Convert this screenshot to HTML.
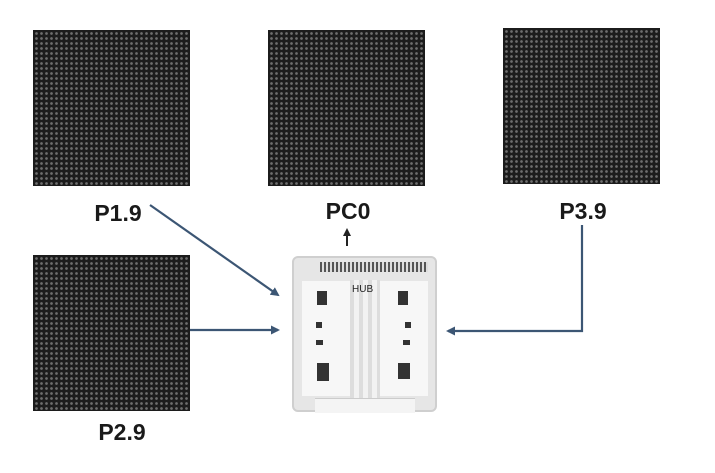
<!DOCTYPE html>
<html><head><style>
body{margin:0;width:715px;height:473px;background:#fff;position:relative;overflow:hidden;font-family:"Liberation Sans",sans-serif}
.p{position:absolute;width:157px;height:156px;background-color:#1c1c1c;background-image:radial-gradient(circle,#6e6e6e 1.1px,transparent 1.6px);background-size:5px 5px;background-position:1px 1px}
.l{position:absolute;font-weight:bold;font-size:23px;color:#1a1a1a;transform:translateX(-50%)}
.c{position:absolute;background:#333}
</style></head><body>
<div class="p" style="left:33px;top:30px"></div>
<div class="p" style="left:268px;top:30px"></div>
<div class="p" style="left:503px;top:28px"></div>
<div class="p" style="left:33px;top:255px"></div>
<div class="l" style="left:118px;top:200px">P1.9</div>
<div class="l" style="left:348px;top:198px">PC0</div>
<div class="l" style="left:583px;top:198px">P3.9</div>
<div class="l" style="left:122px;top:419px">P2.9</div>
<div style="position:absolute;left:292px;top:256px;width:145px;height:156px;background:#e6e6e6;border:2px solid #cfcfcf;border-radius:6px;box-sizing:border-box"></div>
<div style="position:absolute;left:302px;top:281px;width:48px;height:115px;background:#f7f7f7"></div>
<div style="position:absolute;left:380px;top:281px;width:48px;height:115px;background:#f7f7f7"></div>
<div style="position:absolute;left:350px;top:280px;width:30px;height:118px;background:repeating-linear-gradient(90deg,#ddd 0 4px,#f2f2f2 4px 9px)"></div>
<div style="position:absolute;left:352px;top:284px;font-size:10px;color:#222">HUB</div>
<div style="position:absolute;left:320px;top:262px;width:108px;height:10px;background:repeating-linear-gradient(90deg,#555 0 2px,#ddd 2px 4px)"></div>
<div class="c" style="left:317px;top:291px;width:10px;height:14px"></div>
<div class="c" style="left:398px;top:291px;width:10px;height:14px"></div>
<div class="c" style="left:316px;top:322px;width:6px;height:6px"></div>
<div class="c" style="left:405px;top:322px;width:6px;height:6px"></div>
<div class="c" style="left:316px;top:340px;width:7px;height:5px"></div>
<div class="c" style="left:403px;top:340px;width:7px;height:5px"></div>
<div class="c" style="left:317px;top:363px;width:12px;height:18px"></div>
<div class="c" style="left:398px;top:363px;width:12px;height:16px"></div>
<div style="position:absolute;left:315px;top:398px;width:100px;height:14px;background:#f4f4f4;border-top:1px solid #ccc"></div>
<svg width="715" height="473" style="position:absolute;left:0;top:0">
<defs><marker id="a" markerWidth="9" markerHeight="9" refX="7" refY="4.5" orient="auto" markerUnits="userSpaceOnUse"><path d="M0,0L9,4.5L0,9z" fill="#3c5674"/></marker>
<marker id="b" markerWidth="8" markerHeight="8" refX="6" refY="4" orient="auto" markerUnits="userSpaceOnUse"><path d="M0,0L8,4L0,8z" fill="#222"/></marker></defs>
<g stroke="#3c5674" stroke-width="2.2" fill="none">
<line x1="150" y1="205" x2="278" y2="295" marker-end="url(#a)"/>
<line x1="190" y1="330" x2="278" y2="330" marker-end="url(#a)"/>
<polyline points="582,225 582,331 448,331" marker-end="url(#a)"/>
</g>
<line x1="347" y1="246" x2="347" y2="230" stroke="#222" stroke-width="2" marker-end="url(#b)"/>
</svg>
</body></html>
